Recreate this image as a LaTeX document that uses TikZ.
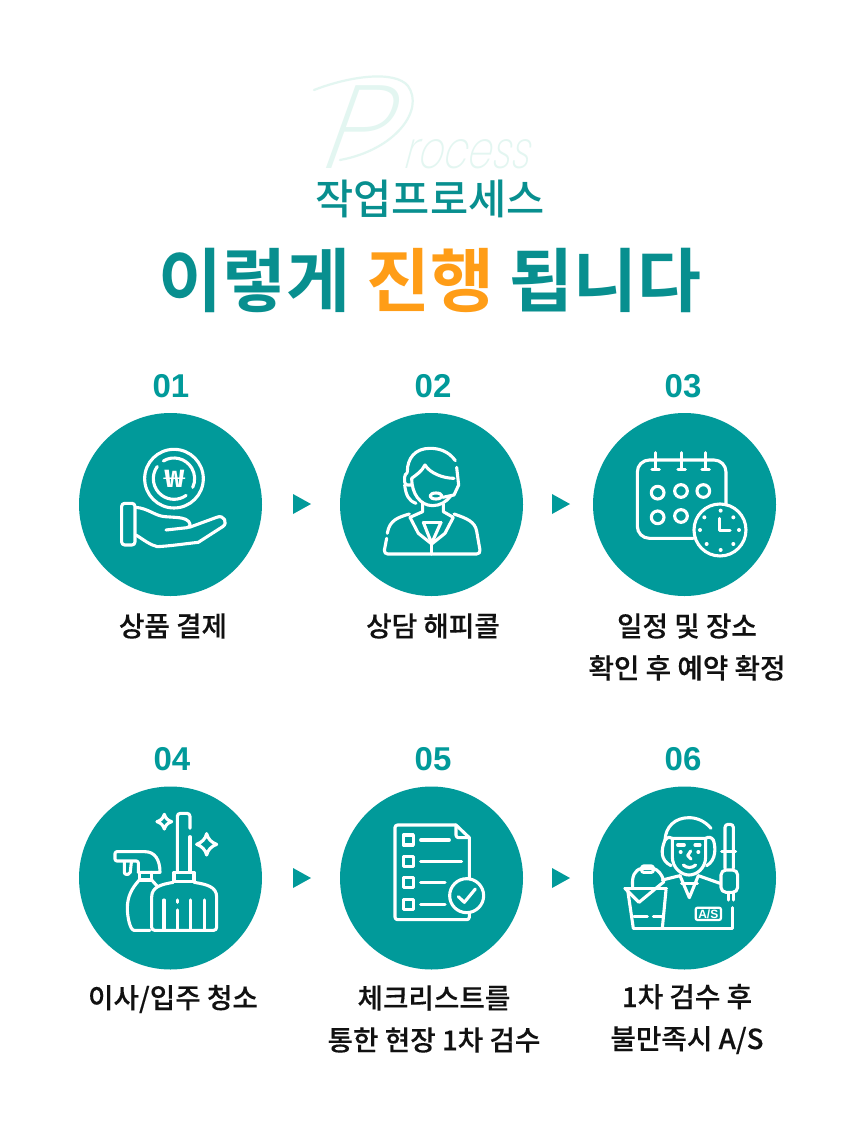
\documentclass[tikz,border=0pt]{standalone}
\usepackage{fontspec}
\usepackage{graphicx}
\newfontfamily\krm{Noto Sans CJK KR Medium}
\newfontfamily\krlbl{Noto Sans CJK KR Medium}[FakeBold=0.25]
\newfontfamily\krb{Noto Sans CJK KR Bold}
\newfontfamily\digits{Liberation Sans Bold}
\newfontfamily\scriptish{Poppins ExtraLight Italic}[FakeSlant=0.18]
\definecolor{teal1}{HTML}{019A9A}
\definecolor{title}{HTML}{088F8F}
\definecolor{orange1}{HTML}{FF9D17}
\definecolor{pale}{HTML}{E3F6F1}
\definecolor{ink}{HTML}{111111}
\tikzset{
  x=1pt,y=-1pt,
  disc/.style={circle,fill=teal1,minimum size=183pt,inner sep=0pt},
  num/.style={font=\digits\fontsize{33}{36}\selectfont,text=teal1,inner sep=0pt,anchor=center},
  lbl/.style={font=\krlbl\fontsize{27.7}{42}\selectfont,text=ink,align=center,inner sep=0pt,anchor=center},
  icon/.style={white,line width=3.1pt,line cap=round,line join=round},
  z/.style={shift={#1},x=0.3333pt,y=-0.3333pt},
  tri/.style={fill=teal1}
}
\begin{document}
\begin{tikzpicture}
\useasboundingbox (0,0) rectangle (860,1140);
\fill[white] (0,0) rectangle (860,1140);
% decorative script
\node[inner sep=0pt,anchor=base west,text=pale] (proc) at (322,168)
  {\scriptish\fontsize{118}{118}\selectfont P\kern 18pt\scalebox{1}[1.35]{\fontsize{39}{39}\selectfont rocess}};
\draw[pale,line width=2.2pt,line cap=round] (314,90) .. controls (350,76) and (395,70) .. (408,86) .. controls (425,110) and (395,150) .. (340,160);
\node[font=\krm\fontsize{41.5}{44}\selectfont,text=title,inner sep=0pt] (sub) at (430,199) {작업프로세스};
\node[font=\krb\fontsize{69.5}{70}\selectfont,text=title,inner sep=0pt] (head) at (430,280) {이렇게 {\color{orange1}진행} 됩니다};
% circles
\node[disc] (c1) at (170.5,504.5) {};
\node[disc] (c2) at (431.5,504.5) {};
\node[disc] (c3) at (684.5,504.5) {};
\node[disc] (c4) at (170.5,878) {};
\node[disc] (c5) at (431.5,878) {};
\node[disc] (c6) at (684.5,878) {};
% numbers
\node[num] (n1) at (171,386) {01};
\node[num] (n2) at (433,386) {02};
\node[num] (n3) at (683,386) {03};
\node[num] (n4) at (172,759) {04};
\node[num] (n5) at (433,759) {05};
\node[num] (n6) at (683,759) {06};
% labels
\node[lbl] (l1) at (173,626) {상품 결제};
\node[lbl] (l2) at (433,626) {상담 해피콜};
\node[lbl] (l3) at (687,647) {일정 및 장소\\확인 후 예약 확정};
\node[lbl] (l4) at (173,999) {이사/입주 청소};
\node[lbl] (l5) at (434,1019) {체크리스트를\\통한 현장 1차 검수};
\node[lbl] (l6) at (687,1019) {1차 검수 후\\불만족시 A/S};
% arrows
\foreach \a/\b in {293/494,552/494,293/868,552/868}{
  \fill[tri] (\a,\b) -- (\a+18,\b+10) -- (\a,\b+20) -- cycle;
}
% icon 1
\begin{scope}[z={(70,410)}]
\draw[icon] (312,206) circle[radius=88];
\draw[icon] (312,206) ++(216:62) arc[start angle=216,end angle=54,radius=62];
\draw[icon] (312,206) ++(239:62) arc[start angle=239,end angle=385,radius=62];
\node[font=\krb\fontsize{24}{24}\selectfont,text=white,inner sep=0pt] (won) at (314,208) {\scalebox{1.45}[1]{₩}};
\draw[icon,rounded corners=3pt] (155,280) rectangle (195,405);
\draw[icon] (197,292) .. controls (235,295) and (255,318) .. (285,320) .. controls (310,322) and (335,322) .. (347,328) .. controls (362,335) and (365,350) .. (352,353) -- (288,360);
\draw[icon] (358,352) -- (440,322) .. controls (462,312) and (475,340) .. (458,350) -- (385,397) .. controls (340,402) and (300,408) .. (262,410) .. controls (240,405) and (222,390) .. (198,375);
\end{scope}
% icon 2
\begin{scope}[z={(330,410)}]
\draw[icon] (376,152) .. controls (355,122) and (325,115) .. (300,115) .. controls (255,115) and (232,145) .. (232,185);
\draw[icon,rounded corners=3pt] (232,188) -- (224,192) -- (224,225) -- (245,225);
\draw[icon] (224,225) .. controls (228,255) and (235,272) .. (258,280);
\draw[icon] (245,205) .. controls (258,195) and (275,185) .. (285,165) .. controls (300,190) and (340,205) .. (372,205);
\draw[icon] (245,205) .. controls (245,250) and (270,287) .. (308,287) .. controls (330,287) and (350,275) .. (362,258);
\draw[icon] (380,172) -- (386,225) -- (372,255) -- (338,262);
\draw[icon] (318,258) ellipse[x radius=18,y radius=9];
\draw[icon] (278,280) -- (278,305) -- (240,322) -- (265,370) -- (305,402) -- (345,370) -- (370,322) -- (340,305) -- (340,282);
\draw[icon] (280,337) -- (333,337);
\draw[icon] (280,337) -- (305,400) -- (333,337);
\draw[icon] (238,312) .. controls (205,322) and (178,330) .. (172,370);
\draw[icon,rounded corners=4pt] (170,385) -- (161,432) -- (452,432) -- (442,375) .. controls (435,335) and (410,325) .. (372,312);
\draw[icon] (305,402) -- (305,432);
\end{scope}
% icon 3
\begin{scope}[z={(585,410)}]
\draw[icon,rounded corners=12pt] (325,385) -- (157,385) -- (157,150) -- (423,150) -- (423,285);
\foreach \x in {212,290,362}{
  \draw[icon] (\x,128) -- (\x,176);
  \draw[icon] (\x-11,178) -- (\x+11,178);
}
\foreach \x/\y in {218/248,288/243,355/243,218/322,288/318}{
  \draw[icon] (\x,\y) circle[radius=19];
}
\draw[icon] (405,360) circle[radius=78];
\draw[icon] (403,325) -- (403,362) -- (435,362);
\foreach \x/\y in {407/302,445/322,462/360,445/402,407/420,365/402,345/360,358/322}{
  \fill[white] (\x,\y) circle[radius=6];
}
\end{scope}
% icon 4
\begin{scope}[z={(70,785)}]
\draw[icon,rounded corners=3pt] (322,262) -- (322,85) -- (360,85) -- (360,130);
\draw[icon] (360,155) -- (360,262);
\draw[icon] (312,262) rectangle (372,290);
\draw[icon,rounded corners=3pt] (310,292) .. controls (275,298) and (245,305) .. (245,345) -- (245,436) -- (440,436) -- (440,345) .. controls (440,305) and (410,298) .. (372,292);
\draw[icon] (282,345) -- (282,436);
\draw[icon] (322,345) -- (322,352);
\draw[icon] (322,375) -- (322,436);
\draw[icon] (362,345) -- (362,436);
\draw[icon] (403,345) -- (403,436);
\draw[icon] (283,88) .. controls (287,100) and (293,106) .. (305,110) .. controls (293,114) and (287,120) .. (283,132) .. controls (279,120) and (273,114) .. (261,110) .. controls (273,106) and (279,100) .. (283,88) -- cycle;
\draw[icon] (410,146) .. controls (414,162) and (424,172) .. (440,178) .. controls (424,184) and (414,194) .. (410,210) .. controls (406,194) and (396,184) .. (380,178) .. controls (396,172) and (406,162) .. (410,146) -- cycle;
\draw[icon,rounded corners=2pt] (205,262) -- (205,228) -- (135,228) -- (135,200) -- (225,200);
\draw[icon] (225,200) .. controls (255,200) and (270,225) .. (270,262) -- (205,262);
\draw[icon,rounded corners=2pt] (163,230) -- (163,268) -- (180,268) -- (184,232);
\draw[icon] (208,262) -- (208,285) -- (245,285) -- (245,262);
\draw[icon] (208,285) .. controls (185,310) and (172,335) .. (172,370) .. controls (172,395) and (180,435) .. (192,436) -- (240,436);
\draw[icon] (245,285) -- (263,305);
\end{scope}
% icon 5
\begin{scope}[z={(330,785)}]
\draw[icon,rounded corners=2.5pt] (378,120) -- (195,120) -- (195,404) -- (418,404) -- (418,385);
\draw[icon] (418,282) -- (418,158) -- (378,120);
\draw[icon,rounded corners=2.5pt] (378,120) -- (378,158) -- (418,158);
\foreach \y in {165,230,293,358}{
  \draw[icon] (220,\y-15) rectangle (250,\y+15);
}
\draw[icon] (272,165) -- (358,165);
\draw[icon] (272,230) -- (395,230);
\draw[icon] (272,293) -- (345,293);
\draw[icon] (272,358) -- (345,358);
\draw[icon] (410,332) circle[radius=51];
\draw[icon] (385,335) -- (403,352) -- (436,312);
\end{scope}
% icon 6
\begin{scope}[z={(585,785)}]
\draw[icon] (378,130) .. controls (360,108) and (335,98) .. (312,98) .. controls (270,98) and (242,125) .. (240,165);
\draw[icon] (240,165) .. controls (250,155) and (255,155) .. (262,160) -- (362,160) .. controls (370,155) and (378,155) .. (385,165) .. controls (392,185) and (395,225) .. (365,242);
\draw[icon] (240,165) .. controls (228,195) and (225,225) .. (258,242);
\draw[icon] (262,160) -- (262,215) .. controls (262,250) and (290,270) .. (312,270) .. controls (335,270) and (362,250) .. (362,215) -- (362,160);
\draw[icon] (278,180) -- (298,180);
\draw[icon] (330,180) -- (345,180);
\fill[white] (287,201) circle[radius=6];
\fill[white] (340,201) circle[radius=6];
\draw[icon] (317,198) -- (308,212) -- (318,222);
\draw[icon] (295,240) .. controls (305,250) and (322,250) .. (332,240);
\draw[icon] (285,272) -- (313,338) -- (340,272);
\draw[icon] (290,295) -- (337,295);
\draw[icon] (232,285) -- (285,272);
\draw[icon] (340,272) -- (405,295);
\draw[icon,rounded corners=3pt] (420,250) -- (420,118) -- (445,118) -- (445,250);
\draw[icon] (410,200) -- (452,200);
\draw[icon,rounded corners=5pt] (408,255) rectangle (458,322);
\draw[icon] (430,322) -- (430,345);
\draw[icon] (445,322) -- (445,345);
\draw[icon] (442,368) -- (442,430) -- (145,430);
\draw[icon] (128,315) -- (145,430);
\draw[icon] (243,315) -- (232,430);
\draw[icon] (120,310) -- (162,352) -- (237,290);
\draw[icon] (120,310) -- (245,310);
\draw[icon] (143,305) .. controls (140,275) and (148,255) .. (170,250) -- (205,250) .. controls (220,255) and (232,270) .. (235,285);
\draw[icon,rounded corners=2pt] (170,262) rectangle (205,243);
\draw[icon] (147,395) -- (187,395);
\draw[icon] (205,395) -- (230,395);
\draw[white,line width=2.2pt,rounded corners=2pt] (332,368) rectangle (408,405);
\node[font=\digits\fontsize{12}{12}\selectfont,text=white,inner sep=0pt] (as) at (370,387) {A/S};
\end{scope}
\end{tikzpicture}
\end{document}
